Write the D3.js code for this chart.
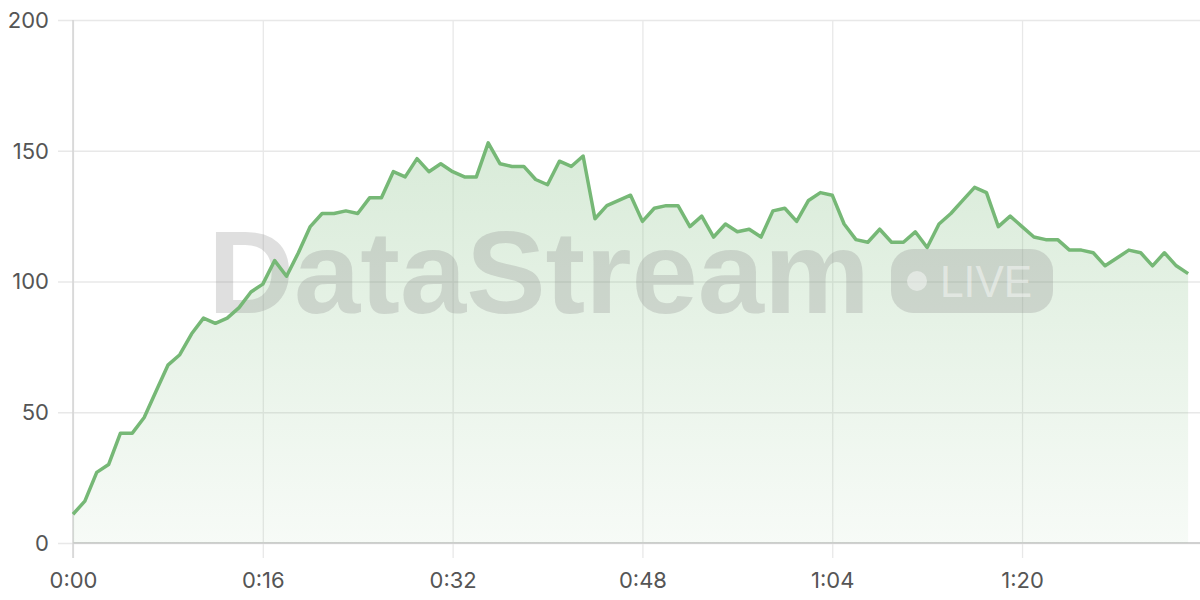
<!DOCTYPE html>
<html>
<head>
<meta charset="utf-8">
<script src="https://cdn.jsdelivr.net/npm/d3@7"></script>
<style>
  html, body { margin: 0; padding: 0; background: #fff; }
  svg { display: block; }
</style>
</head>
<body>
<svg id="chart" width="1200" height="600"></svg>
<script>
// ---- data ----
const seconds = d3.range(0, 95);
const values = [11,16,27,30,42,42,48,58,68,72,
  80,86,84,86,90,96,99,108,102,111,
  121,126,126,127,126,132,132,142,140,147,
  142,145,142,140,140,153,145,144,144,139,
  137,146,144,148,124,129,131,133,123,128,
  129,129,121,125,117,122,119,120,117,127,
  128,123,131,134,133,122,116,115,120,115,
  115,119,113,122,126,131,136,134,121,125,
  121,117,116,116,112,112,111,106,109,112,
  111,106,111,106,103];
const xTicks = [0, 16, 32, 48, 64, 80];
const yTicks = [0, 50, 100, 150, 200];
const watermarkText = "DataStream";
const badgeText = "LIVE";

const data = seconds.map((s, i) => ({ s, v: values[i] }));

const svg = d3.select("#chart");
const x = d3.scaleLinear().domain([0, 95]).range([73, 1200]);
const y = d3.scaleLinear().domain([0, 200]).range([543, 20]);
const fmt = s => Math.floor(s / 60) + ":" + String(s % 60).padStart(2, "0");
const fontFam = "Inter, 'Noto Sans', sans-serif";

// gradient
const defs = svg.append("defs");
const grad = defs.append("linearGradient").attr("id", "areaGrad")
  .attr("x1", 0).attr("y1", 0).attr("x2", 0).attr("y2", 1);
grad.append("stop").attr("offset", "0%").attr("stop-color", "#76b876").attr("stop-opacity", 0.28);
grad.append("stop").attr("offset", "100%").attr("stop-color", "#76b876").attr("stop-opacity", 0.06);

// horizontal grid
const yAxis = d3.axisLeft(y).tickValues(yTicks).tickSize(15).tickPadding(10).tickFormat(d3.format("d"));
const gy = svg.append("g").attr("transform", "translate(73,0)").call(yAxis);
gy.select(".domain").remove();
gy.selectAll(".tick line").attr("x2", 1200 - 73).attr("x1", -15).attr("stroke", "#e8e8e8").attr("stroke-width", 1.3);
gy.selectAll(".tick text").attr("font-family", fontFam).attr("font-size", 22).attr("fill", "#555")
  .attr("x", -24).attr("dy", "0.34em");

// vertical grid
const xAxis = d3.axisBottom(x).tickValues(xTicks).tickFormat(fmt).tickSize(0).tickPadding(0);
const gx = svg.append("g").attr("transform", "translate(0,543)").call(xAxis);
gx.select(".domain").remove();
gx.selectAll(".tick line").attr("y1", 15).attr("y2", -(543 - 20)).attr("stroke", "#e8e8e8").attr("stroke-width", 1.3);
gx.selectAll(".tick text").attr("font-family", fontFam).attr("font-size", 22).attr("fill", "#555")
  .attr("y", 45).attr("dy", 0);

// axis lines
svg.append("line").attr("x1", x(0)).attr("x2", x(0)).attr("y1", y(200)).attr("y2", 558)
  .attr("stroke", "#d4d4d4").attr("stroke-width", 1.5);
svg.append("line").attr("x1", 73).attr("x2", 1200).attr("y1", y(0)).attr("y2", y(0))
  .attr("stroke", "#d0d0d0").attr("stroke-width", 1.8);

// area
const area = d3.area().x(d => x(d.s)).y0(y(0)).y1(d => y(d.v));
svg.append("path").datum(data).attr("d", area).attr("fill", "url(#areaGrad)");

// watermark
const wm = svg.append("g");
wm.append("text").text(watermarkText)
  .attr("x", 208).attr("y", 313)
  .attr("textLength", 662).attr("lengthAdjust", "spacingAndGlyphs")
  .attr("font-family", "'Liberation Sans', Arial, sans-serif").attr("font-weight", "bold")
  .attr("font-size", 116).attr("fill", "#8c8c8c").attr("fill-opacity", 0.28);
wm.append("rect").attr("x", 891).attr("y", 249).attr("width", 162).attr("height", 64).attr("rx", 22)
  .attr("fill", "#8c8c8c").attr("fill-opacity", 0.28);
wm.append("circle").attr("cx", 917).attr("cy", 281).attr("r", 10).attr("fill", "#fff").attr("fill-opacity", 0.45);
wm.append("text").text(badgeText)
  .attr("x", 940).attr("y", 297)
  .attr("textLength", 92).attr("lengthAdjust", "spacingAndGlyphs")
  .attr("font-family", "'Liberation Sans', Arial, sans-serif").attr("font-weight", "normal")
  .attr("font-size", 44).attr("fill", "#fff").attr("fill-opacity", 0.45);

// line
const line = d3.line().x(d => x(d.s)).y(d => y(d.v));
svg.append("path").datum(data).attr("d", line).attr("fill", "none")
  .attr("stroke", "#76b876").attr("stroke-width", 3.5).attr("stroke-linejoin", "round");
</script>
</body>
</html>
